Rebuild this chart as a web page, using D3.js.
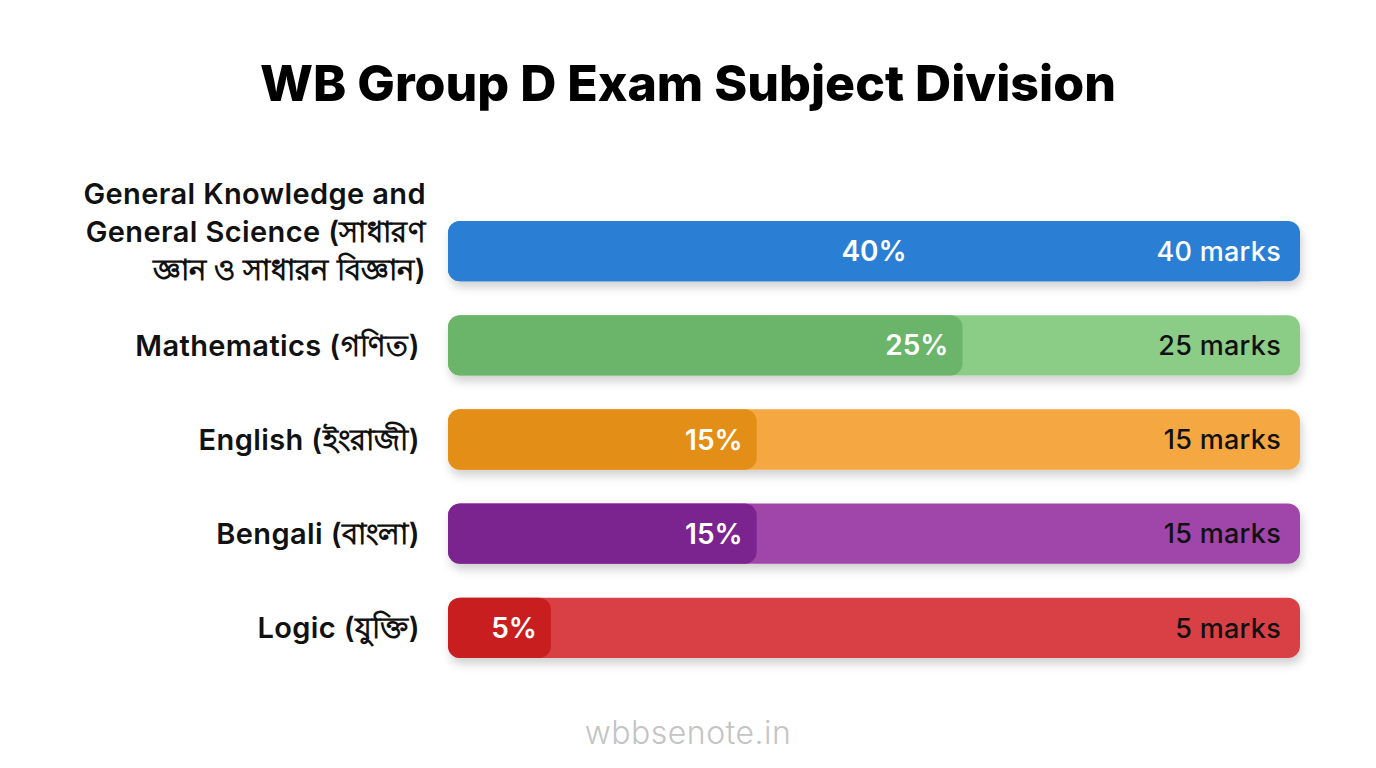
<!DOCTYPE html>
<html>
<head>
<meta charset="utf-8">
<script src="https://cdn.jsdelivr.net/npm/d3@7"></script>
<style>
  html, body { margin: 0; padding: 0; background: #fff; }
  svg { display: block; }
  text { font-family: Inter, "Noto Sans", sans-serif; }
</style>
</head>
<body>
<div id="chart"></div>
<script>
var subjects = [
    ['General Knowledge and', 'General Science (সাধারণ', 'জ্ঞান ও সাধারন বিজ্ঞান)'],
    ['Mathematics (গণিত)'],
    ['English (ইংরাজী)'],
    ['Bengali (বাংলা)'],
    ['Logic (যুক্তি)']
];
var percents = [40, 25, 15, 15, 5];
var marks = ['40 marks', '25 marks', '15 marks', '15 marks', '5 marks'];
var darkColors = ['#2a7fd4', '#6bb56a', '#e38e17', '#7b2490', '#c81e1f'];
var lightColors = ['#2a7fd4', '#8bcc87', '#f5a843', '#a044aa', '#d94145'];
var marksColors = ['#ffffff', '#111111', '#111111', '#111111', '#111111'];

var width = 1376;
var height = 768;

var svg = d3.select('#chart').append('svg')
        .attr('width', width)
        .attr('height', height);

var defs = svg.append('defs');
defs.append('filter')
        .attr('id', 'shadow')
        .attr('x', '-5%').attr('y', '-30%')
        .attr('width', '110%').attr('height', '180%')
        .append('feDropShadow')
        .attr('dx', 2).attr('dy', 6)
        .attr('stdDeviation', 5)
        .attr('flood-color', '#000')
        .attr('flood-opacity', 0.18);

var y = d3.scaleBand()
        .domain(d3.range(percents.length))
        .range([204, 675])
        .paddingInner(0.36)
        .paddingOuter(0.18);

var x = d3.scaleLinear()
        .domain([0, 41.4])
        .range([448, 1300])
        .clamp(true);

var maxValue = d3.max(percents);

// title
var title = svg.append('text')
        .attr('x', width / 2)
        .attr('y', 101)
        .attr('text-anchor', 'middle')
        .style('font-size', '46px')
        .style('font-weight', 800)
        .style('fill', '#000')
        .text('WB Group D Exam Subject Division');
var tw = title.node().getComputedTextLength();
title.style('font-size', (46 * 856 / tw) + 'px');

var rows = svg.selectAll('g.row')
        .data(percents)
        .enter()
        .append('g')
        .attr('class', 'row');

// track
rows.append('rect')
        .attr('x', x(0))
        .attr('y', function (d, i) { return y(i) })
        .attr('width', x.range()[1] - x(0))
        .attr('height', y.bandwidth())
        .attr('rx', 12)
        .style('fill', function (d, i) { return lightColors[i] })
        .attr('filter', 'url(#shadow)');

// value part
rows.append('rect')
        .attr('x', x(0))
        .attr('y', function (d, i) { return y(i) })
        .attr('width', function (d) { return x(d) - x(0) })
        .attr('height', y.bandwidth())
        .attr('rx', 12)
        .style('fill', function (d, i) { return darkColors[i] });

// percent labels
rows.append('text')
        .attr('x', function (d) {
            return d === maxValue ? (x(0) + x.range()[1]) / 2 : x(d) - 14;
        })
        .attr('y', function (d, i) { return y(i) + y.bandwidth() / 2 })
        .attr('dy', '0.36em')
        .attr('text-anchor', function (d) { return d === maxValue ? 'middle' : 'end' })
        .style('font-size', '28px')
        .style('font-weight', 600)
        .style('fill', '#fff')
        .text(function (d) { return d + '%' });

// marks labels
rows.append('text')
        .attr('x', 1281)
        .attr('y', function (d, i) { return y(i) + y.bandwidth() / 2 })
        .attr('dy', '0.36em')
        .attr('text-anchor', 'end')
        .style('font-size', '27px')
        .style('font-weight', 500)
        .style('letter-spacing', '0.3px')
        .style('fill', function (d, i) { return marksColors[i] })
        .text(function (d, i) { return marks[i] });

// category labels
var lineHeight = 38;
rows.append('text')
        .attr('text-anchor', 'end')
        .style('font-size', '29px')
        .style('font-weight', 600)
        .style('letter-spacing', '0.4px')
        .style('fill', '#111')
        .each(function (d, i) {
            var lines = subjects[i];
            var cy = y(i) + y.bandwidth() / 2;
            var top = cy - (lines.length - 1) * lineHeight / 2 - (lines.length > 1 ? 20 : 0);
            d3.select(this).selectAll('tspan')
                    .data(lines)
                    .enter()
                    .append('tspan')
                    .attr('x', lines.length > 1 ? 426 : 420)
                    .attr('y', function (l, j) { return top + j * lineHeight })
                    .attr('dy', '0.36em')
                    .text(function (l) { return l });
        });

// watermark
svg.append('text')
        .attr('x', 688)
        .attr('y', 744)
        .attr('text-anchor', 'middle')
        .style('font-size', '32px')
        .style('font-weight', 300)
        .style('letter-spacing', '0.5px')
        .style('fill', '#c4c4c4')
        .text('wbbsenote.in');
</script>
</body>
</html>
